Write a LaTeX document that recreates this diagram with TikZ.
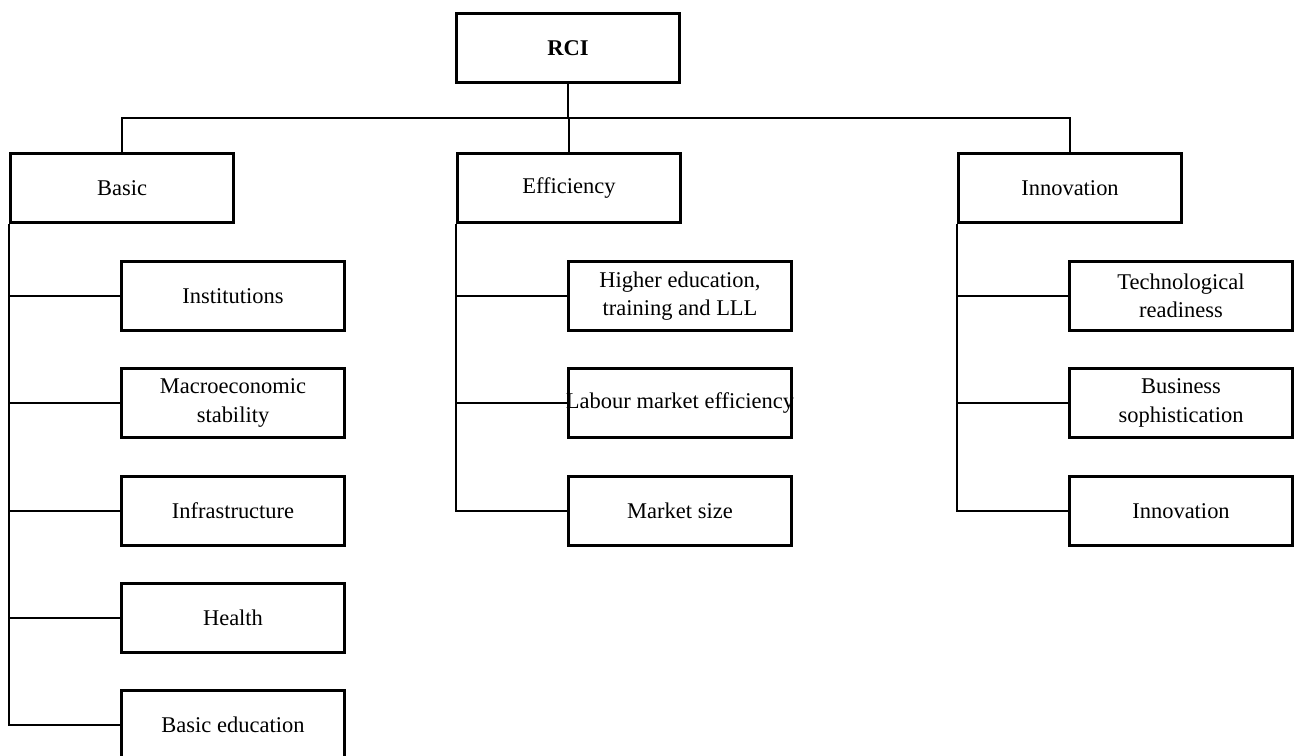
\documentclass[tikz,border=0pt]{standalone}
\usepackage{fontspec}
\setmainfont{Liberation Serif}
\begin{document}
\begin{tikzpicture}[x=0.02cm, y=-0.02cm,
    every node/.style={font=\fontsize{12.8}{16}\selectfont},
    box/.style={draw, line width=1.7pt, minimum width=4.45cm, minimum height=1.38cm, inner sep=0pt, align=center},
    link/.style={line width=1.1pt}]
    \useasboundingbox (0,0) rectangle (1295,756);
    \clip (0,0) rectangle (1295,756);
    % top level
    \node[box, font=\fontsize{12.8}{16}\selectfont\bfseries] (rci) at (568,48) {RCI};
    \coordinate (bus) at (568,118);
    \node[box] (basic) at (122,188) {Basic};
    \node[box] (efficiency) at (569,188) {Efficiency};
    \node[box] (innovation) at (1070,188) {Innovation};
    % pillars
    \node[box] (inst) at (233,296) {Institutions};
    \node[box] (macro) at (233,403) {Macroeconomic\\stability};
    \node[box] (infra) at (233,511) {Infrastructure};
    \node[box] (health) at (233,618) {Health};
    \node[box] (basicedu) at (233,725) {Basic education};
    \node[box] (higher) at (680,296) {Higher education,\\training and LLL};
    \node[box] (labour) at (680,403) {\makebox[4.4cm]{Labour market efficiency}};
    \node[box] (msize) at (680,511) {Market size};
    \node[box] (tech) at (1181,296) {Technological\\readiness};
    \node[box] (business) at (1181,403) {Business\\sophistication};
    \node[box] (innov) at (1181,511) {Innovation};

    \draw[link] (rci.south) -- (bus);
    \foreach \c in {basic,efficiency,innovation} \draw[link] (bus) -| (\c.north);
    \foreach \c in {inst,macro,infra,health,basicedu} \draw[link] (basic.south west) |- (\c.west);
    \foreach \c in {higher,labour,msize} \draw[link] (efficiency.south west) |- (\c.west);
    \foreach \c in {tech,business,innov} \draw[link] (innovation.south west) |- (\c.west);
\end{tikzpicture}
\end{document}
